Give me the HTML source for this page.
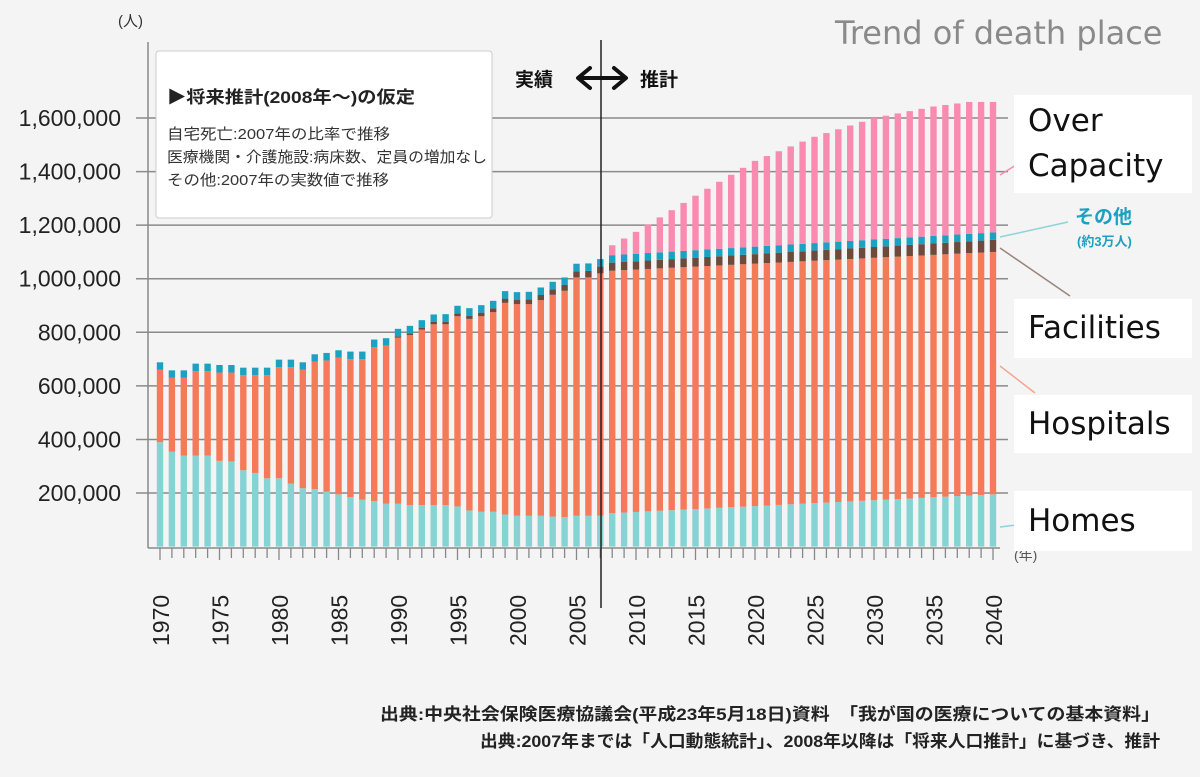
<!DOCTYPE html>
<html><head><meta charset="utf-8"><style>
body{margin:0;background:#f4f4f4;}
#w{position:relative;width:1200px;height:777px;overflow:hidden;background:#f4f4f4;font-family:"Liberation Sans","Noto Sans CJK JP",sans-serif;}
.lb{position:absolute;left:1014px;width:178px;background:#fff;font-family:"DejaVu Sans","Liberation Sans",sans-serif;font-size:31px;color:#111;padding-left:14px;box-sizing:border-box;line-height:44px;}
</style></head><body><div id="w">
<svg id="s" width="1200" height="777" style="position:absolute;left:0;top:0" font-family="Liberation Sans, Noto Sans CJK JP, sans-serif"></svg>
<div style="position:absolute;left:835px;top:14px;font-family:'DejaVu Sans',sans-serif;font-size:32px;color:#8a8a8a;">Trend of death place</div>
<div class="lb" style="top:95px;height:98px;line-height:45px;padding-top:4px;">Over<br>Capacity</div>
<div class="lb" style="top:299px;height:59px;line-height:59px;">Facilities</div>
<div class="lb" style="top:395px;height:58px;line-height:58px;">Hospitals</div>
<div class="lb" style="top:491px;height:60px;line-height:60px;">Homes</div>
</div>
<script>
const s=document.getElementById('s');let h='';
const Y=v=>546.6-v*0.26786; const X=y=>160+(y-1970)*11.9;
for(let k=1;k<=8;k++){const y=Y(k*200);h+=`<line x1="136" x2="1008" y1="${y}" y2="${y}" stroke="#8a8a8a" stroke-width="1.5"/>`;
h+=`<text x="121" y="${y+8}" font-size="23" text-anchor="end" fill="#222">${(k*200).toLocaleString('en')},000</text>`;}
h+=`<line x1="148" x2="148" y1="42" y2="548" stroke="#8a8a8a" stroke-width="1.5"/><line x1="148" x2="1000" y1="548" y2="548" stroke="#8a8a8a" stroke-width="1.5"/>`;
h+=`<text x="118" y="26" font-size="15" fill="#333">(人)</text><text x="1014" y="560" font-size="14" fill="#555">(年)</text>`;
const homes=[390,355,340,340,340,320,318,285,275,255,255,235,218,215,205,195,185,175,170,160,160,155,155,155,155,150,135,130,130,120,115,115,115,112,110,115,115,115];
const hosp=[660,630,630,655,655,650,650,640,640,640,670,670,660,690,695,705,700,700,745,750,780,790,810,830,830,860,850,860,875,910,905,905,920,940,955,1005,1005,1020];
const pk=[[2008,1125],[2010,1175],[2015,1310],[2020,1440],[2025,1530],[2030,1600],[2035,1643],[2038,1660],[2040,1660]];
function pink(y){for(let i=0;i<pk.length-1;i++){if(y<=pk[i+1][0]){const t=(y-pk[i][0])/(pk[i+1][0]-pk[i][0]);return pk[i][1]+t*(pk[i+1][1]-pk[i][1]);}}}
for(let yr=1970;yr<=2040;yr++){const i=yr-1970;let hm,hp,fc;
if(yr<=2007){hm=homes[i];hp=hosp[i];fc=yr>=1990?hp+5+(yr-1990)*1.2:hp;}
else{const t=(yr-2008)/32;hm=125+70*t;hp=1030+70*t;fc=hp+30+15*t;}
const ot=fc+28;const x=X(yr)-3.2,w=6.4;
const r=(a,b,c)=>`<rect x="${x}" y="${Y(b)}" width="${w}" height="${Y(a)-Y(b)}" fill="${c}"/>`;
h+=r(0,hm,'#86d3d4')+r(hm,hp,'#f47a5a');if(fc>hp)h+=r(hp,fc,'#6e4a3c');h+=r(fc,ot,'#1ba2c2');
if(yr>=2008)h+=r(ot,pink(yr),'#f98bb0');
h+=`<line x1="${X(yr)}" x2="${X(yr)}" y1="548" y2="${yr%5==0?560:558}" stroke="#888" stroke-width="1.3"/>`;
if(yr%5==0)h+=`<text transform="translate(${X(yr)+9},${646}) rotate(-90)" font-size="23" fill="#222">${yr}</text>`;}
h+=`<line x1="601" x2="601" y1="40" y2="608" stroke="#222" stroke-width="1.5"/>`;
h+=`<text x="515" y="86" font-size="19" font-weight="bold" fill="#111">実績</text><text x="640" y="86" font-size="19" font-weight="bold" fill="#111">推計</text>`;
h+=`<path d="M580 78 L624 78 M590 68 L578 78 L590 88 M614 68 L626 78 L614 88" stroke="#111" stroke-width="4" fill="none" stroke-linecap="round" stroke-linejoin="round"/>`;
h+=`<rect x="156" y="51" width="336" height="167" rx="3" fill="#fff" stroke="#ccc"/>`;
h+=`<text x="167" y="103" font-size="17" font-weight="bold" fill="#222" textLength="248" lengthAdjust="spacingAndGlyphs">▶将来推計(2008年〜)の仮定</text>`;
h+=`<text x="167" y="139" font-size="15" fill="#333" textLength="223" lengthAdjust="spacingAndGlyphs">自宅死亡:2007年の比率で推移</text>`;
h+=`<text x="167" y="162" font-size="15" fill="#333" textLength="320" lengthAdjust="spacingAndGlyphs">医療機関・介護施設:病床数、定員の増加なし</text>`;
h+=`<text x="167" y="185" font-size="15" fill="#333" textLength="222" lengthAdjust="spacingAndGlyphs">その他:2007年の実数値で推移</text>`;
h+=`<line x1="1000" y1="237" x2="1068" y2="222" stroke="#8dd3d8" stroke-width="1.5"/><line x1="1000" y1="248" x2="1070" y2="296" stroke="#9a857c" stroke-width="1.5"/><line x1="1000" y1="366" x2="1035" y2="393" stroke="#f4a58f" stroke-width="1.5"/><line x1="1000" y1="527" x2="1016" y2="525" stroke="#8dd3d8" stroke-width="1.5"/><line x1="1000" y1="175" x2="1016" y2="165" stroke="#f98bb0" stroke-width="1.5"/>`;
h+=`<text x="1075" y="223" font-size="19" font-weight="bold" fill="#1ba2c2">その他</text><text x="1077" y="246" font-size="13" font-weight="bold" fill="#1ba2c2">(約3万人)</text>`;
h+=`<text x="380" y="720" font-size="17" font-weight="bold" fill="#222" textLength="780" lengthAdjust="spacingAndGlyphs">出典:中央社会保険医療協議会(平成23年5月18日)資料　「我が国の医療についての基本資料」</text>`;
h+=`<text x="480" y="747" font-size="17" font-weight="bold" fill="#222" textLength="680" lengthAdjust="spacingAndGlyphs">出典:2007年までは「人口動態統計」、2008年以降は「将来人口推計」に基づき、推計</text>`;
s.innerHTML=h;
</script></body></html>
